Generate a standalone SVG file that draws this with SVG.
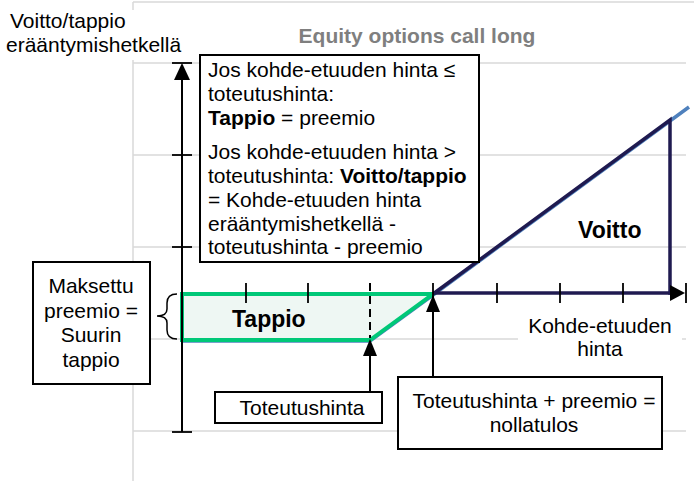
<svg xmlns="http://www.w3.org/2000/svg" width="694" height="481" viewBox="0 0 694 481">
<style>
text{font-family:"Liberation Sans",Arial,sans-serif;font-size:21px;fill:#000}
.b{font-weight:bold}
.grid{stroke:#d9d9d9;stroke-width:1.5;fill:none}
.box{fill:#fff;stroke:#000;stroke-width:2}
.ax{stroke:#000;stroke-width:2;fill:none}
.tick{stroke:#000;stroke-width:1.8}
.head{fill:#000}
.navy{stroke:#1f1a50;stroke-width:3.5;fill:none;stroke-linejoin:miter}
</style>
<rect width="694" height="481" fill="#fff"/>
<g id="frame">
<line class="grid" x1="133" y1="2" x2="694" y2="2"/>
<line class="grid" x1="133" y1="2" x2="133" y2="481"/>
<line class="grid" x1="133" y1="63" x2="686" y2="63"/>
<line class="grid" x1="133" y1="155" x2="686" y2="155"/>
<line class="grid" x1="133" y1="247" x2="686" y2="247"/>
<line class="grid" x1="133" y1="339" x2="686" y2="339"/>
<line class="grid" x1="133" y1="431" x2="686" y2="431"/>
</g>
<g id="ylabel">
<rect x="0" y="10" width="190" height="50" fill="#fff"/>
<text x="10" y="28">Voitto/tappio</text>
<text x="6" y="52">erääntymishetkellä</text>
</g>
<g id="title">
<text class="b" x="417" y="43" text-anchor="middle" style="fill:#7f7f7f">Equity options call long</text>
</g>
<g id="loss-area">
<polygon points="182,294 433,294 370,340 182,340" fill="#eef7f3"/>
</g>
<g id="payoff">
<polyline points="182,341 370,341 433,295 689,107" fill="none" stroke="#4f81bd" stroke-width="3.5"/>
<polygon points="182,294 433,294 370,340 182,340" fill="none" stroke="#00c878" stroke-width="4" stroke-linejoin="miter"/>
<polyline class="navy" points="433,294 670,120 670,293 672,293"/>
<line class="navy" x1="433" y1="293" x2="672" y2="293"/>
<path class="head" d="M670,285 L685,293 L670,301 Z"/>
</g>
<g id="axes">
<line class="ax" x1="182" y1="78" x2="182" y2="432"/>
<path class="head" d="M182,63 L174,80 L190,80 Z"/>
<line class="tick" x1="172" y1="63" x2="192" y2="63"/>
<line class="tick" x1="172" y1="155" x2="192" y2="155"/>
<line class="tick" x1="172" y1="247" x2="192" y2="247"/>
<line class="tick" x1="172" y1="432" x2="192" y2="432"/>
<line class="tick" x1="246" y1="283" x2="246" y2="303"/>
<line class="tick" x1="308" y1="283" x2="308" y2="303"/>
<line class="tick" x1="433" y1="283" x2="433" y2="303"/>
<line class="tick" x1="497" y1="283" x2="497" y2="303"/>
<line class="tick" x1="560" y1="283" x2="560" y2="303"/>
<line class="tick" x1="623" y1="283" x2="623" y2="303"/>
<line class="tick" x1="686" y1="283" x2="686" y2="303"/>
<line x1="370" y1="283" x2="370" y2="338" stroke="#000" stroke-width="2" stroke-dasharray="8,5"/>
</g>
<g id="labels">
<text class="b" x="232" y="327" style="font-size:23px">Tappio</text>
<text class="b" x="578" y="238" style="font-size:23px">Voitto</text>
<rect x="518" y="312" width="164" height="54" fill="#fff"/>
<text x="600" y="333" text-anchor="middle">Kohde-etuuden</text>
<text x="600" y="356" text-anchor="middle">hinta</text>
</g>
<g id="connectors">
<line class="ax" x1="370" y1="392" x2="370" y2="352"/>
<path class="head" d="M370,339 L363,356 L377,356 Z"/>
<line class="ax" x1="433" y1="377" x2="433" y2="308"/>
<path class="head" d="M433,295 L426,312 L440,312 Z"/>
<path d="M177,294 Q167,294 167,303 L167,309 Q167,316 157,316 Q167,316 167,323 L167,330 Q167,339 177,339" fill="none" stroke="#000" stroke-width="1.5"/>
</g>
<g id="rule-box">
<rect class="box" x="200" y="55" width="279" height="207"/>
<text x="208" y="77">Jos kohde-etuuden hinta ≤</text>
<text x="208" y="101">toteutushinta:</text>
<text x="208" y="125"><tspan class="b">Tappio</tspan> = preemio</text>
<text x="208" y="159">Jos kohde-etuuden hinta &gt;</text>
<text x="208" y="183">toteutushinta: <tspan class="b">Voitto/tappio</tspan></text>
<text x="208" y="207">= Kohde-etuuden hinta</text>
<text x="208" y="231">erääntymishetkellä -</text>
<text x="208" y="254">toteutushinta - preemio</text>
</g>
<g id="premium-box">
<rect class="box" x="33" y="262" width="117" height="122"/>
<text x="91" y="293" text-anchor="middle">Maksettu</text>
<text x="91" y="318" text-anchor="middle">preemio =</text>
<text x="91" y="342" text-anchor="middle">Suurin</text>
<text x="91" y="367" text-anchor="middle">tappio</text>
</g>
<g id="strike-box">
<rect class="box" x="215" y="392" width="167" height="31"/>
<text x="302" y="415" text-anchor="middle">Toteutushinta</text>
</g>
<g id="breakeven-box">
<rect class="box" x="398" y="377" width="264" height="72"/>
<text x="534" y="408" text-anchor="middle">Toteutushinta + preemio =</text>
<text x="534" y="432" text-anchor="middle">nollatulos</text>
</g>
</svg>
